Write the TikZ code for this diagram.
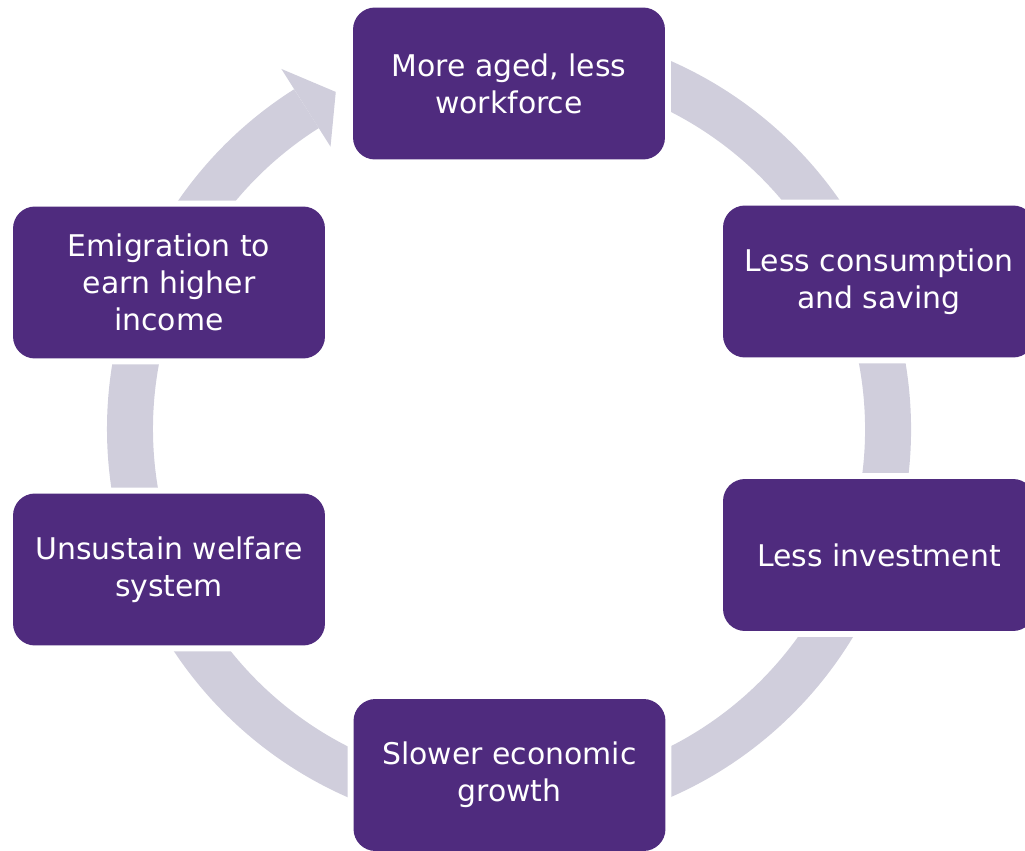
\documentclass[tikz,border=0pt]{standalone}
\usepackage{fontspec}
\setmainfont{DejaVu Sans}
\usetikzlibrary{calc}

\definecolor{boxpurple}{RGB}{79,43,126}
\definecolor{ringgray}{RGB}{208,206,220}

\tikzset{
  stage/.style={fill=boxpurple, text=white, rounded corners=0.44cm,
    minimum width=6.24cm, minimum height=3.04cm, align=center, inner sep=0pt,
    font=\fontsize{17}{21.2}\selectfont,
    preaction={draw=white, line width=0.24cm}},
  ring/.style={draw=ringgray, line width=0.92cm}
}

\begin{document}
\begin{tikzpicture}[x=0.02cm, y=0.02cm]
\useasboundingbox (0,0) rectangle (1025,850);
\coordinate (hub) at (509,421);

% the cycle ring, with its one arrow head
\draw[ring]
    ($(hub)+(100:379)$) arc[start angle=100, end angle=-237.7, radius=379];
\fill[ringgray]
    ($(hub)+(122.3:426)$) -- ($(hub)+(117.2:379)$) -- ($(hub)+(122.3:334)$) -- cycle;

\node[stage] (aged) at (509, 766.5) {More aged, less\\workforce};
\node[stage] (consumption) at (879, 568.5) {Less consumption\\and saving};
\node[stage] (investment) at (879, 295) {Less investment};
\node[stage] (growth) at (509.5, 75) {Slower economic\\growth};
\node[stage] (welfare) at (169, 280.5) {Unsustain welfare\\system};
\node[stage] (emigration) at (169, 567.5) {Emigration to\\earn higher\\income};
\end{tikzpicture}
\end{document}
